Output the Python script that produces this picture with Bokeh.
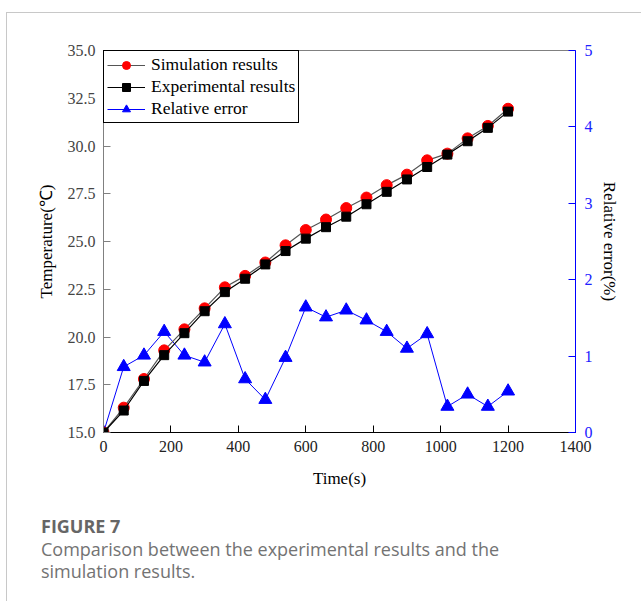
from bokeh.plotting import figure
from bokeh.layouts import column
from bokeh.models import (Range1d, LinearAxis, FixedTicker, NumeralTickFormatter,
                          Legend, LegendItem, Div)
from bokeh.embed import file_html
from bokeh.resources import INLINE

time_s = [0, 60, 120, 180, 240, 300, 360, 420, 480, 540, 600, 660, 720, 780,
          840, 900, 960, 1020, 1080, 1140, 1200]
simulation = [15.0, 16.3, 17.8, 19.3, 20.4, 21.5, 22.6, 23.2, 23.9, 24.8, 25.6,
              26.15, 26.75, 27.3, 27.95, 28.5, 29.25, 29.6, 30.4, 31.05, 31.95]
experimental = [15.0, 16.15, 17.7, 19.05, 20.2, 21.35, 22.35, 23.05, 23.8, 24.5,
                25.15, 25.75, 26.3, 26.95, 27.6, 28.25, 28.9, 29.55, 30.25, 30.95, 31.8]
rel_error = [0.0, 0.86, 1.01, 1.32, 1.01, 0.92, 1.42, 0.70, 0.43, 0.98, 1.64,
             1.51, 1.60, 1.47, 1.32, 1.10, 1.29, 0.34, 0.50, 0.34, 0.54]

x_ticks = [0, 200, 400, 600, 800, 1000, 1200, 1400]
temp_ticks = [15.0, 17.5, 20.0, 22.5, 25.0, 27.5, 30.0, 32.5, 35.0]
err_ticks = [0, 1, 2, 3, 4, 5]

caption_title = "FIGURE 7"
caption_lines = ["Comparison between the experimental results and the",
                 "simulation results."]

SERIF = "'Liberation Serif', 'Times New Roman', serif"

p = figure(width=635, height=480, output_backend="svg", toolbar_location=None,
           x_range=Range1d(0, 1400), y_range=Range1d(15, 35),
           min_border_left=96, min_border_right=67, min_border_top=37,
           min_border_bottom=61)
p.extra_y_ranges = {"err": Range1d(0, 5)}
p.grid.visible = False
p.outline_line_color = "#808080"
p.background_fill_color = "white"
p.border_fill_color = "white"


def style_axis(ax, line_col, label_col, text, standoff, label_standoff):
    ax.axis_label = text
    ax.axis_line_color = line_col
    ax.major_tick_line_color = line_col
    ax.major_tick_in = 7
    ax.major_tick_out = 0
    ax.minor_tick_line_color = None
    ax.major_label_standoff = standoff
    ax.major_label_text_font = SERIF
    ax.major_label_text_font_size = "16px"
    ax.major_label_text_font_style = "normal"
    ax.major_label_text_color = label_col
    ax.axis_label_text_font = SERIF
    ax.axis_label_text_font_size = "17px"
    ax.axis_label_text_font_style = "normal"
    ax.axis_label_text_color = "black"
    ax.axis_label_standoff = label_standoff


xa = p.xaxis[0]
xa.ticker = FixedTicker(ticks=x_ticks)
style_axis(xa, "black", "#222222", "Time(s)", 8, 14)

ya = p.yaxis[0]
ya.ticker = FixedTicker(ticks=temp_ticks)
ya.formatter = NumeralTickFormatter(format="0.0")
style_axis(ya, "#808080", "#444444", "Temperature(℃)", 8, 9)

ra = LinearAxis(y_range_name="err", ticker=FixedTicker(ticks=err_ticks))
style_axis(ra, "#0000ff", "#2020ff", "Relative error(%)", 9, 4)
p.add_layout(ra, "right")

# series
l3 = p.line(time_s, rel_error, y_range_name="err", line_color="#0000ff", line_width=1)
s3 = p.scatter(time_s, rel_error, y_range_name="err", marker="triangle", size=13,
               fill_color="#0000ff", line_color="#0000ff")
l1 = p.line(time_s, simulation, line_color="#555555", line_width=1.2)
s1 = p.scatter(time_s, simulation, marker="circle", size=11,
               fill_color="#ff0000", line_color="#ff0000")
l2 = p.line(time_s, experimental, line_color="black", line_width=1.2)
s2 = p.scatter(time_s, experimental, marker="square", size=9,
               fill_color="black", line_color="black")

legend = Legend(items=[
    LegendItem(label="Simulation results", renderers=[l1, s1]),
    LegendItem(label="Experimental results", renderers=[l2, s2]),
    LegendItem(label="Relative error", renderers=[l3, s3]),
], location="top_left")
legend.margin = 0
legend.padding = 3
legend.spacing = 1
legend.label_height = 20
legend.glyph_height = 20
legend.glyph_width = 38
legend.label_standoff = 6
legend.border_line_color = "black"
legend.border_line_width = 1
legend.border_line_alpha = 1
legend.background_fill_alpha = 1
legend.label_text_font = SERIF
legend.label_text_font_size = "17.5px"
legend.label_text_color = "black"
p.add_layout(legend)

# caption as HTML text
cap_html = (
    "<div style=\"font-family:'Open Sans',sans-serif;padding-left:34px;margin:0;\">"
    "<div style='font-size:18px;font-weight:bold;color:#666666;line-height:24px;"
    "margin-top:21px;'>" + caption_title + "</div>"
    + "".join("<div style='font-size:18px;color:#737373;line-height:22px;'>" + ln + "</div>"
              for ln in caption_lines)
    + "</div>"
)
cap = Div(text=cap_html, width=635, height=109, margin=0)

root = column(p, cap, spacing=0)
root.margin = (12, 0, 0, 6)
root.styles = {"border-top": "1px solid #c8c8c8", "border-left": "1px solid #c8c8c8"}

open("out.html", "w").write(file_html(root, INLINE))
